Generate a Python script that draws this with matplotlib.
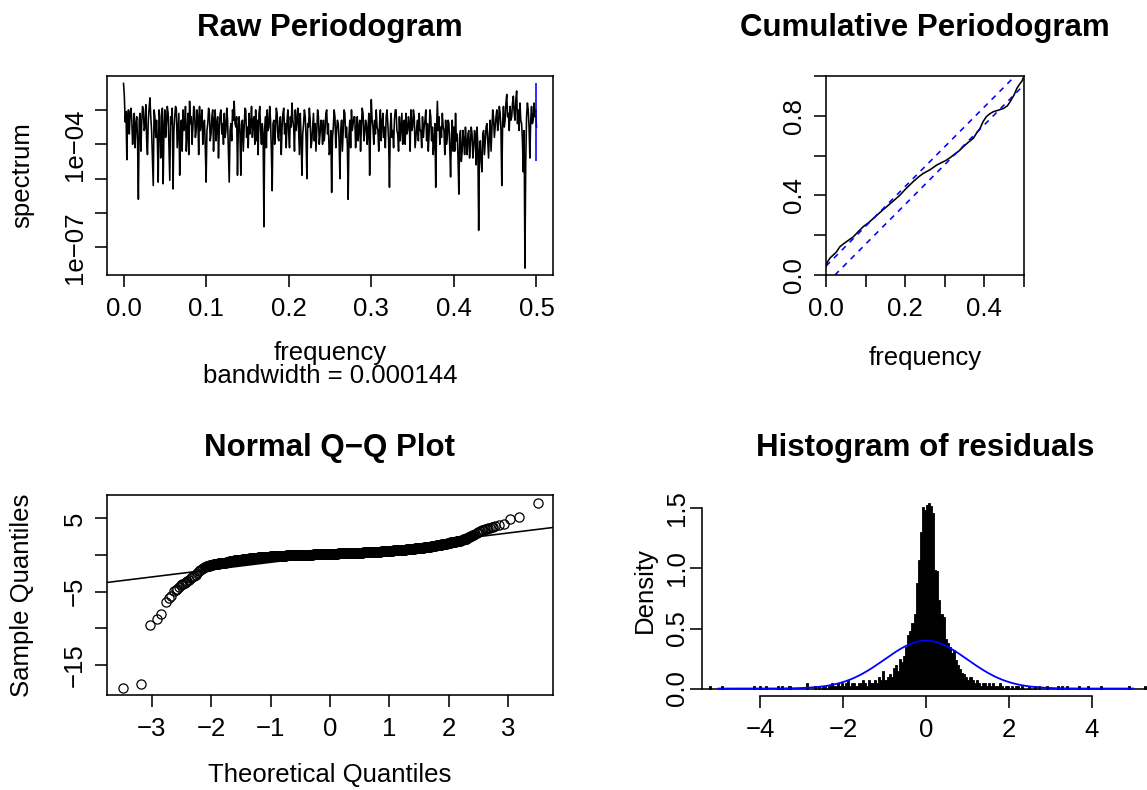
import numpy as np
import matplotlib
matplotlib.use("Agg")
import matplotlib.pyplot as plt

plt.rcParams['font.family'] = ['Liberation Sans', 'DejaVu Sans']

W, H = 1147, 790
LW = 1.15      # R lwd=1 at this resolution
FS = 18.5      # axis text
TFS = 22.5     # bold titles
BLUE = '#0000FF'

# ---- raw periodogram: log10(spectrum), one value per 0.001 of frequency
freq_step = 0.001
spec_log10 = [
    -2.23, -2.60, -3.35, -3.05, -4.45, -3.20, -3.00, -3.70, -3.10, -2.95, -3.30, -4.00, -3.60, -3.10, -4.10, -3.40, -3.20, -3.90, -5.60, -3.30,
    -3.10, -4.20, -3.40, -2.90, -3.00, -3.60, -3.50, -2.85, -3.90, -4.30, -3.30, -2.95, -2.65, -3.20, -3.60, -4.40, -5.20, -3.00, -3.20, -3.80,
    -3.30, -3.90, -5.10, -3.00, -3.20, -4.40, -4.00, -2.95, -5.15, -3.50, -3.00, -3.80, -3.40, -2.90, -3.10, -4.10, -5.05, -3.20, -3.40, -2.95,
    -5.30, -3.60, -3.20, -2.90, -3.00, -4.10, -3.60, -3.10, -4.90, -3.70, -3.30, -4.20, -3.00, -3.60, -3.50, -2.90, -4.20, -3.70, -3.10, -4.30,
    -2.75, -3.40, -3.20, -4.00, -3.50, -2.90, -3.00, -3.80, -3.60, -3.00, -3.20, -4.30, -2.90, -3.60, -3.40, -3.00, -4.00, -3.50, -3.30, -4.10,
    -5.10, -3.60, -3.40, -2.95, -3.10, -3.90, -3.70, -3.20, -3.00, -4.20, -3.30, -3.00, -3.90, -3.40, -3.20, -4.40, -3.50, -3.10, -3.00, -3.70,
    -3.40, -4.00, -3.10, -3.80, -3.60, -2.95, -3.30, -4.20, -5.10, -3.60, -3.40, -3.90, -3.00, -3.30, -2.75, -3.40, -3.50, -3.20, -4.90, -3.50,
    -3.20, -3.70, -4.90, -3.40, -3.30, -4.20, -3.60, -2.95, -3.00, -3.80, -3.50, -4.10, -3.10, -3.70, -3.40, -2.90, -3.80, -3.30, -3.20, -4.00,
    -3.00, -3.90, -3.30, -4.30, -3.10, -2.90, -3.60, -4.00, -3.40, -3.70, -6.40, -3.50, -3.20, -4.10, -3.00, -3.60, -3.50, -2.90, -3.30, -4.20,
    -5.35, -3.40, -3.30, -4.00, -3.60, -2.95, -3.10, -3.80, -3.90, -3.30, -3.20, -4.30, -3.50, -3.10, -2.95, -3.70, -3.40, -4.10, -3.30, -3.00,
    -3.70, -4.10, -3.20, -3.50, -2.80, -3.30, -3.50, -4.20, -3.00, -3.60, -3.30, -2.95, -3.60, -4.30, -3.10, -3.80, -4.90, -3.70, -3.40, -3.00,
    -3.20, -3.80, -5.00, -3.40, -3.50, -2.95, -3.30, -4.10, -3.90, -3.50, -3.10, -3.90, -3.40, -4.20, -3.60, -3.00, -3.20, -4.00, -3.70, -3.30,
    -3.50, -4.00, -3.30, -3.90, -3.60, -3.10, -3.00, -3.70, -3.40, -4.30, -4.20, -3.60, -5.40, -3.80, -3.50, -3.00, -3.20, -4.10, -3.60, -3.30,
    -3.40, -3.90, -5.00, -3.60, -3.30, -4.20, -3.60, -3.00, -3.10, -3.80, -3.50, -4.00, -5.60, -3.70, -3.30, -4.10, -3.00, -3.60, -3.40, -3.20,
    -3.20, -4.10, -3.60, -3.20, -3.90, -3.50, -3.30, -4.20, -3.50, -2.95, -3.10, -3.90, -3.70, -3.30, -3.40, -4.00, -3.60, -3.10, -4.90, -3.60,
    -2.70, -3.30, -3.50, -4.00, -3.30, -3.70, -3.00, -3.50, -3.60, -4.20, -3.40, -3.00, -3.90, -3.40, -3.10, -3.80, -3.50, -4.10, -3.20, -3.00,
    -3.40, -3.90, -5.25, -3.50, -3.10, -3.80, -3.60, -4.10, -3.30, -3.00, -3.00, -3.60, -3.70, -4.20, -3.20, -3.90, -3.50, -3.10, -4.00, -3.40,
    -3.30, -4.00, -3.10, -3.70, -3.60, -3.20, -3.40, -4.20, -3.00, -3.60, -3.50, -3.00, -3.20, -4.10, -3.80, -3.50, -3.30, -3.90, -3.10, -3.60,
    -3.60, -4.10, -3.20, -3.80, -3.50, -3.30, -3.00, -3.90, -3.40, -4.20, -3.70, -3.00, -3.20, -3.90, -3.50, -4.30, -3.90, -3.40, -5.25, -3.60,
    -2.75, -3.60, -3.20, -4.00, -3.50, -3.80, -3.10, -3.50, -3.60, -4.30, -3.30, -4.00, -3.80, -3.30, -3.40, -4.10, -4.95, -3.80, -3.30, -4.20,
    -3.50, -4.20, -3.10, -3.90, -3.70, -4.40, -5.45, -3.80, -3.60, -4.50, -4.20, -3.60, -3.90, -4.30, -3.50, -4.00, -4.30, -3.70, -3.60, -4.40,
    -4.00, -3.50, -3.70, -4.40, -4.10, -3.60, -3.80, -4.60, -3.50, -4.00, -6.50, -4.20, -3.90, -4.50, -4.80, -3.70, -3.60, -4.30, -3.90, -3.50,
    -3.40, -3.90, -4.40, -3.70, -3.30, -4.20, -3.60, -3.00, -3.20, -3.80, -3.50, -3.20, -3.00, -3.60, -3.40, -2.90, -3.10, -3.60, -5.20, -3.40,
    -2.90, -3.50, -3.30, -2.80, -2.55, -3.20, -3.10, -3.60, -2.90, -3.30, -3.20, -2.80, -2.60, -3.10, -3.30, -2.70, -2.45, -3.40, -3.00, -3.60,
    -2.80, -3.30, -3.40, -3.90, -4.80, -3.60, -7.60, -4.50, -3.20, -2.80, -3.00, -3.50, -4.40, -3.30, -2.90, -3.40, -3.30, -2.80, -3.20, -3.00,
    -3.50,
]
ci_bar_log10 = [-4.49, -2.23]

# ---- cumulative periodogram
cum_freq = [0.000, 0.004, 0.010, 0.018, 0.026, 0.035, 0.045, 0.055, 0.069, 0.080,
            0.094, 0.107, 0.120, 0.135, 0.153, 0.170, 0.187, 0.200, 0.220, 0.235,
            0.246, 0.262, 0.280, 0.295, 0.305, 0.315, 0.322, 0.335, 0.347, 0.360,
            0.372, 0.380, 0.389, 0.397, 0.405, 0.415, 0.423, 0.435, 0.448, 0.458,
            0.465, 0.475, 0.482, 0.490, 0.495, 0.500]
cum_value = [0.042, 0.067, 0.085, 0.100, 0.115, 0.142, 0.158, 0.172, 0.192, 0.215,
             0.243, 0.262, 0.285, 0.312, 0.343, 0.372, 0.402, 0.430, 0.469, 0.495,
             0.511, 0.528, 0.553, 0.568, 0.578, 0.592, 0.603, 0.622, 0.645, 0.668,
             0.687, 0.712, 0.737, 0.772, 0.796, 0.812, 0.821, 0.828, 0.837, 0.850,
             0.871, 0.905, 0.938, 0.962, 0.975, 1.000]
cum_band = 0.045   # offset of the dashed limits

# ---- normal Q-Q (sorted residuals)
qq_low_x = [-3.484, -3.176, -3.025, -2.913, -2.840, -2.762, -2.706, -2.672, -2.622, -2.590,
            -2.566, -2.532, -2.510, -2.493, -2.470, -2.437, -2.420, -2.398, -2.370, -2.342,
            -2.315, -2.286, -2.258, -2.230, -2.205, -2.185, -2.160, -2.130]
qq_low_y = [-18.19, -17.60, -9.55, -8.78, -8.05, -6.41, -5.91, -5.59, -4.91, -4.78,
            -4.68, -4.32, -4.15, -4.00, -3.90, -3.77, -3.66, -3.55, -3.36, -3.18,
            -3.02, -2.86, -2.68, -2.50, -2.25, -2.05, -1.88, -1.73]
qq_mid_x = [
    -2.10, -2.07, -2.04, -2.01, -1.98, -1.95, -1.92, -1.89, -1.86, -1.83,
    -1.80, -1.77, -1.74, -1.71, -1.68, -1.65, -1.62, -1.59, -1.56, -1.53,
    -1.50, -1.47, -1.44, -1.41, -1.38, -1.35, -1.32, -1.29, -1.26, -1.23,
    -1.20, -1.17, -1.14, -1.11, -1.08, -1.05, -1.02, -0.99, -0.96, -0.93,
    -0.90, -0.87, -0.84, -0.81, -0.78, -0.75, -0.72, -0.69, -0.66, -0.63,
    -0.60, -0.57, -0.54, -0.51, -0.48, -0.45, -0.42, -0.39, -0.36, -0.33,
    -0.30, -0.27, -0.24, -0.21, -0.18, -0.15, -0.12, -0.09, -0.06, -0.03,
    0.00, 0.03, 0.06, 0.09, 0.12, 0.15, 0.18, 0.21, 0.24, 0.27,
    0.30, 0.33, 0.36, 0.39, 0.42, 0.45, 0.48, 0.51, 0.54, 0.57,
    0.60, 0.63, 0.66, 0.69, 0.72, 0.75, 0.78, 0.81, 0.84, 0.87,
    0.90, 0.93, 0.96, 0.99, 1.02, 1.05, 1.08, 1.11, 1.14, 1.17,
    1.20, 1.23, 1.26, 1.29, 1.32, 1.35, 1.38, 1.41, 1.44, 1.47,
    1.50, 1.53, 1.56, 1.59, 1.62, 1.65, 1.68, 1.71, 1.74, 1.77,
    1.80, 1.83, 1.86, 1.89, 1.92, 1.95, 1.98, 2.01, 2.04, 2.07,
    2.10, 2.13, 2.16, 2.19, 2.22, 2.25, 2.28, 2.31, 2.34, 2.37,
    2.40,
]
qq_mid_y = [
    -1.62, -1.52, -1.45, -1.40, -1.34, -1.29, -1.25, -1.20, -1.16, -1.12,
    -1.07, -1.03, -0.99, -0.95, -0.88, -0.82, -0.77, -0.72, -0.69, -0.65,
    -0.62, -0.58, -0.55, -0.52, -0.49, -0.45, -0.43, -0.41, -0.39, -0.37,
    -0.34, -0.32, -0.30, -0.27, -0.25, -0.23, -0.21, -0.19, -0.18, -0.16,
    -0.15, -0.13, -0.12, -0.10, -0.09, -0.08, -0.07, -0.06, -0.05, -0.04,
    -0.03, -0.02, -0.01, 0.00, 0.01, 0.02, 0.03, 0.04, 0.05, 0.05,
    0.06, 0.07, 0.08, 0.09, 0.10, 0.11, 0.12, 0.13, 0.14, 0.15,
    0.16, 0.17, 0.18, 0.19, 0.20, 0.21, 0.21, 0.22, 0.23, 0.24,
    0.25, 0.26, 0.27, 0.28, 0.29, 0.30, 0.31, 0.32, 0.33, 0.34,
    0.35, 0.37, 0.38, 0.39, 0.41, 0.42, 0.44, 0.45, 0.47, 0.48,
    0.50, 0.52, 0.53, 0.55, 0.57, 0.59, 0.61, 0.63, 0.65, 0.67,
    0.70, 0.72, 0.74, 0.77, 0.79, 0.82, 0.84, 0.87, 0.89, 0.92,
    0.95, 0.98, 1.01, 1.04, 1.08, 1.11, 1.15, 1.19, 1.23, 1.27,
    1.31, 1.35, 1.40, 1.44, 1.49, 1.55, 1.60, 1.66, 1.71, 1.76,
    1.81, 1.86, 1.90, 1.95, 2.03, 2.12, 2.21, 2.31, 2.43, 2.56,
    2.70,
]
qq_high_x = [2.430, 2.465, 2.490, 2.521, 2.550, 2.580, 2.605, 2.635, 2.661, 2.690,
             2.717, 2.745, 2.773, 2.840, 2.924, 3.025, 3.182, 3.490]
qq_high_y = [2.84, 3.04, 3.18, 3.32, 3.40, 3.46, 3.50, 3.57, 3.64, 3.71,
             3.78, 3.86, 3.96, 4.05, 4.23, 4.87, 5.23, 7.05]

# ---- histogram of residuals (density), bins of 0.05 starting at -2.6
hist_start = -2.6
hist_width = 0.05
hist_heights = [
    0.025, 0, 0.025, 0.025, 0, 0.025, 0.05, 0.025, 0.025, 0.05,
    0.025, 0.05, 0.025, 0.05, 0.075, 0.025, 0.05, 0.05, 0.025, 0.05,
    0.05, 0.075, 0.05, 0.025, 0.075, 0.05, 0.05, 0.075, 0.05, 0.10,
    0.075, 0.15, 0.075, 0.10, 0.125, 0.10, 0.175, 0.20, 0.15, 0.25,
    0.225, 0.275, 0.35, 0.45, 0.48, 0.55, 0.62, 0.88, 1.07, 1.30,
    1.51, 1.49, 1.53, 1.545, 1.52, 1.46, 0.99, 0.98, 0.74, 0.62,
    0.60, 0.41, 0.38, 0.35, 0.30, 0.32, 0.24, 0.20, 0.16, 0.13,
    0.125, 0.10, 0.075, 0.10, 0.075, 0.05, 0.075, 0.05, 0.025, 0.05,
    0.05, 0.025, 0.05, 0.025, 0.05, 0.025, 0.025, 0.05, 0.025, 0,
    0.025, 0.025, 0, 0.025, 0, 0.025, 0.025, 0, 0.025, 0,
    0, 0.025, 0, 0,
]
hist_tail_x = [-5.20, -4.92, -4.14, -4.00, -3.86, -3.57, -3.48, -3.29, -2.87, -2.67,
               2.63, 2.72, 2.92, 3.18, 3.28, 3.40, 3.69, 3.90, 4.22, 4.89, 5.28]
hist_tail_h = [0.025, 0.025, 0.025, 0.025, 0.025, 0.025, 0.025, 0.025, 0.05, 0.025,
               0.025, 0.025, 0.025, 0.025, 0.025, 0.025, 0.025, 0.025, 0.025, 0.025, 0.025]
norm_mean, norm_sd = 0.0, 1.0

fig = plt.figure(figsize=(W / 100, H / 100), dpi=100)


def add_ax(x0, y0, x1, y1):
    # axes from pixel box (top-left origin)
    return fig.add_axes([x0 / W, 1 - y1 / H, (x1 - x0) / W, (y1 - y0) / H])


def style(ax, ypad=6):
    ax.tick_params(direction='out', length=8.5, width=LW, labelsize=FS, color='black')
    ax.tick_params(axis='x', pad=7)
    ax.tick_params(axis='y', pad=ypad)
    for s in ax.spines.values():
        s.set_linewidth(LW)


def label(x, y, s, **kw):
    fig.text(x / W, 1 - y / H, s, ha='center', va='center', **kw)


# ---------------- Raw periodogram
ax1 = add_ax(107, 76, 553, 275)
freqs = np.arange(len(spec_log10)) * freq_step
ax1.plot(freqs, 10.0 ** np.array(spec_log10), color='black', lw=LW)
ax1.vlines(freqs[-1], 10.0 ** ci_bar_log10[0], 10.0 ** ci_bar_log10[1], color=BLUE, lw=LW)
ax1.set_yscale('log')
ax1.set_xlim(-0.02, 0.52)
ax1.set_ylim(10 ** -7.80, 10 ** -2.015)
ax1.minorticks_off()
ax1.set_xticks([0, 0.1, 0.2, 0.3, 0.4, 0.5], ['0.0', '0.1', '0.2', '0.3', '0.4', '0.5'])
ax1.set_yticks([1e-7, 1e-6, 1e-5, 1e-4, 1e-3],
               ['1e\u221207', '', '', '1e\u221204', ''], rotation=90, va='center')
style(ax1)
label(330, 28, 'Raw Periodogram', fontsize=TFS, fontweight='bold')
label(330, 353, 'frequency', fontsize=FS)
label(330, 376, 'bandwidth = 0.000144', fontsize=FS)
label(22, 175, 'spectrum', fontsize=FS, rotation=90)

# ---------------- Cumulative periodogram
ax2 = add_ax(826, 76, 1024, 275)
ax2.plot(cum_freq, cum_value, color='black', lw=LW)
ax2.axline((0, cum_band), slope=2, color=BLUE, lw=LW, ls=(0, (3.5, 3.5)))
ax2.axline((0, -cum_band), slope=2, color=BLUE, lw=LW, ls=(0, (3.5, 3.5)))
ax2.set_xlim(0, 0.5)
ax2.set_ylim(0, 1)
ax2.set_xticks([0, 0.1, 0.2, 0.3, 0.4, 0.5], ['0.0', '', '0.2', '', '0.4', ''])
ax2.set_yticks([0, 0.2, 0.4, 0.6, 0.8, 1.0], ['0.0', '', '0.4', '', '0.8', ''],
               rotation=90, va='center')
style(ax2)
label(925, 28, 'Cumulative Periodogram', fontsize=TFS, fontweight='bold')
label(925, 358, 'frequency', fontsize=FS)

# ---------------- Normal Q-Q
ax3 = add_ax(107, 495, 553, 695)
ax3.plot(qq_low_x + qq_high_x, qq_low_y + qq_high_y, ls='none', marker='o', ms=6.6,
         mfc='none', mec='black', mew=0.9)
# the middle of the sample is so dense that the open circles merge into a solid band
ax3.plot(qq_mid_x, qq_mid_y, ls='none', marker='o', ms=7.0, mfc='black', mec='black', mew=0.9)
ax3.axline((0, 0), slope=1, color='black', lw=LW)
ax3.set_xlim(-3.75, 3.75)
ax3.set_ylim(-19.1, 8.18)
ax3.set_xticks([-3, -2, -1, 0, 1, 2, 3],
               ['\u22123', '\u22122', '\u22121', '0', '1', '2', '3'])
ax3.set_yticks([-15, -10, -5, 0, 5], ['\u221215', '', '\u22125', '', '5'],
               rotation=90, va='center')
style(ax3)
label(330, 448, 'Normal Q\u2212Q Plot', fontsize=TFS, fontweight='bold')
label(330, 775, 'Theoretical Quantiles', fontsize=FS)
label(22, 595, 'Sample Quantiles', fontsize=FS, rotation=90)

# ---------------- Histogram of residuals
ax4 = add_ax(702, 495, 1147, 696)
centers = hist_start + hist_width * (np.arange(len(hist_heights)) + 0.5)
ax4.bar(centers, hist_heights, width=hist_width, color='black', edgecolor='black', lw=0.6)
ax4.bar(hist_tail_x, hist_tail_h, width=hist_width, color='black', edgecolor='black', lw=0.6)
ax4.axhline(0, color='black', lw=LW)
xs = np.linspace(-5, 5, 401)
ax4.plot(xs, np.exp(-0.5 * ((xs - norm_mean) / norm_sd) ** 2) / (norm_sd * np.sqrt(2 * np.pi)),
         color=BLUE, lw=1.3)
ax4.set_xlim(-5.40, 5.33)
ax4.set_ylim(-0.062, 1.612)
for side in ('top', 'right'):
    ax4.spines[side].set_visible(False)
ax4.spines['left'].set_bounds(0, 1.5)
ax4.spines['bottom'].set_bounds(-4, 4)
ax4.set_xticks([-4, -2, 0, 2, 4], ['\u22124', '\u22122', '0', '2', '4'])
ax4.set_yticks([0, 0.5, 1.0, 1.5], ['0.0', '0.5', '1.0', '1.5'], rotation=90, va='center')
style(ax4, ypad=1)
label(925, 448, 'Histogram of residuals', fontsize=TFS, fontweight='bold')
label(645, 590, 'Density', fontsize=FS, rotation=90)

fig.savefig('out.png', dpi=100)
